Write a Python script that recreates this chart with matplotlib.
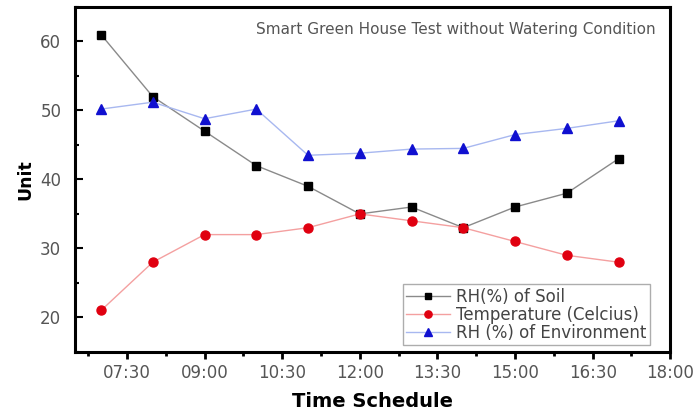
import numpy as np
import matplotlib.pyplot as plt
from matplotlib.ticker import MultipleLocator, FuncFormatter

# hours of the day
hours = [7, 8, 9, 10, 11, 12, 13, 14, 15, 16, 17]
rh_soil = [61, 52, 47, 42, 39, 35, 36, 33, 36, 38, 43]
temperature = [21, 28, 32, 32, 33, 35, 34, 33, 31, 29, 28]
rh_env = [50.2, 51.2, 48.8, 50.2, 43.5, 43.8, 44.4, 44.5, 46.5, 47.4, 48.5]

plt.rcParams['font.family'] = ['DejaVu Sans']

fig = plt.figure(figsize=(6.96, 4.12), dpi=100)
ax = fig.add_axes([0.108, 0.146, 0.855, 0.837])

ax.plot(hours, rh_soil, color='#8a8a8a', lw=1.0, marker='s', ms=6,
        mfc='black', mec='black', label='RH(%) of Soil')
ax.plot(hours, temperature, color='#f4a0a0', lw=1.0, marker='o', ms=6.5,
        mfc='#e00010', mec='#e00010', label='Temperature (Celcius)')
ax.plot(hours, rh_env, color='#a8b8f0', lw=1.0, marker='^', ms=7,
        mfc='#1010d0', mec='#1010d0', label='RH (%) of Environment')

ax.set_xlim(6.5, 18)
ax.set_ylim(15, 65)

ax.xaxis.set_minor_locator(MultipleLocator(0.75))
ax.yaxis.set_major_locator(MultipleLocator(10))
ax.yaxis.set_minor_locator(MultipleLocator(5))


def hhmm(x, pos):
    h = int(x)
    m = int(round((x - h) * 60))
    return '{:02d}:{:02d}'.format(h, m)


ax.set_xticks(np.arange(7.5, 18.01, 1.5))
ax.xaxis.set_major_formatter(FuncFormatter(hhmm))

ax.tick_params(axis='x', which='both', direction='out', width=2, colors='black',
               labelcolor='#555555', labelsize=12)
ax.tick_params(axis='x', which='major', length=5, pad=4)
ax.tick_params(axis='x', which='minor', length=3)
ax.tick_params(axis='y', which='both', direction='in', width=1.5, colors='black',
               labelcolor='#555555', labelsize=12)
ax.tick_params(axis='y', which='major', length=6, pad=10)
ax.tick_params(axis='y', which='minor', length=3)

for s in ax.spines.values():
    s.set_linewidth(2.2)

ax.set_xlabel('Time Schedule', fontsize=14, fontweight='bold', labelpad=7)
ax.set_ylabel('Unit', fontsize=12.5, fontweight='bold', labelpad=4)

ax.text(0.975, 0.935, 'Smart Green House Test without Watering Condition',
        transform=ax.transAxes, ha='right', va='center', fontsize=11, color='#555555')

leg = ax.legend(loc='lower right', bbox_to_anchor=(0.966, 0.02), fontsize=12,
                frameon=True, fancybox=False, handlelength=2.6, borderpad=0.2,
                labelspacing=0.0, handletextpad=0.4, borderaxespad=0.0,
                markerscale=0.8)
leg.get_frame().set_edgecolor('#999999')
leg.get_frame().set_linewidth(1.0)
for t in leg.get_texts():
    t.set_color('#444444')

fig.savefig('out.png', dpi=100)
